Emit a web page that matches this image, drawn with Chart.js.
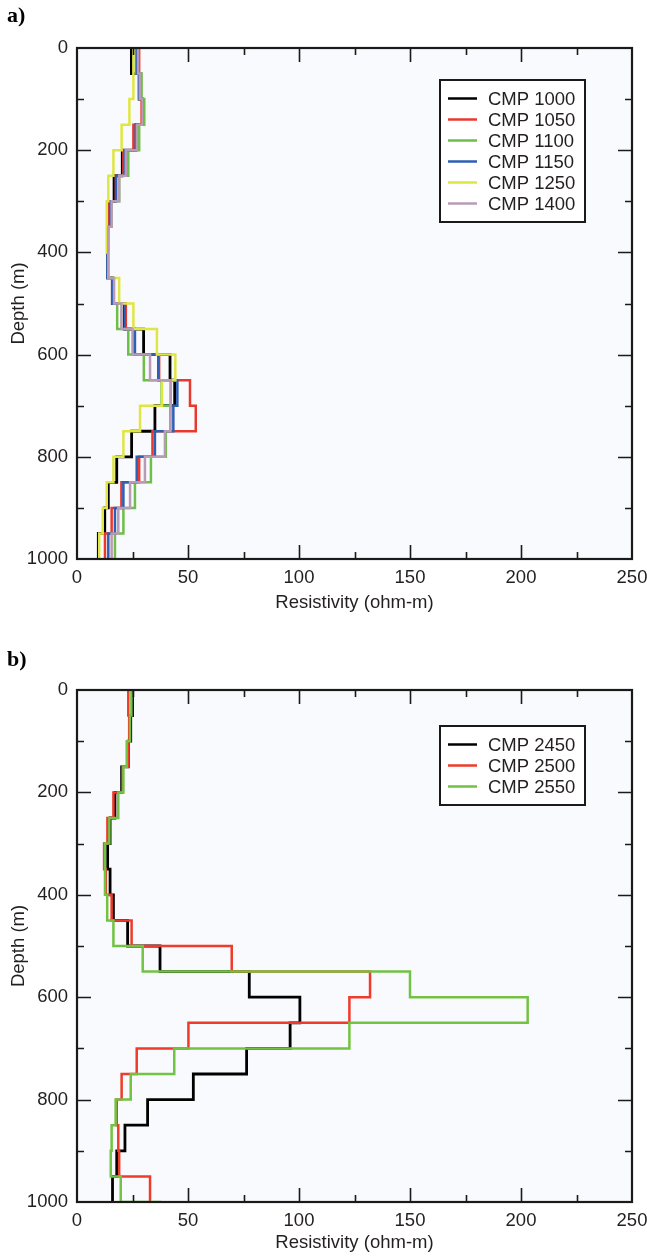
<!DOCTYPE html>
<html>
<head>
<meta charset="utf-8">
<script src="https://cdn.jsdelivr.net/npm/chart.js@4.4.1/dist/chart.umd.min.js"></script>
<style>
  html, body { margin: 0; padding: 0; background: #fff; }
  #page { position: relative; width: 647px; height: 1258px; overflow: hidden; }
  canvas { position: absolute; left: 0; }
  .panel-label { position: absolute; left: 7px; font: bold 22px "Liberation Serif", "DejaVu Serif", serif; line-height: 22px; color: #000; }
</style>
</head>
<body>
<div id="page">
  <canvas id="chartA" width="647" height="630" style="top:0"></canvas>
  <canvas id="chartB" width="647" height="628" style="top:630px"></canvas>
  <div class="panel-label" style="top:4px">a)</div>
  <div class="panel-label" style="top:648px">b)</div>
</div>
<script>
// layer boundaries (m), 50 m layers
const layerDepths = [0, 50, 100, 150, 200, 250, 300, 350, 400, 450, 500, 550, 600, 650, 700, 750, 800, 850, 900, 950, 1000, 1050];
const xTicks = [0, 50, 100, 150, 200, 250];
const yTicks = [0, 200, 400, 600, 800, 1000];

// panel a - resistivity per layer (ohm-m)
const labelsA = ['CMP 1000', 'CMP 1050', 'CMP 1100', 'CMP 1150', 'CMP 1250', 'CMP 1400'];
const cmp1000 = [24.5, 28.0, 29.5, 26.5, 20.4, 16.7, 14.1, 13.8, 13.8, 15.9, 21.3, 30.0, 41.9, 44.0, 35.1, 24.6, 17.9, 14.1, 12.5, 9.6];
const cmp1050 = [28.0, 28.7, 29.1, 25.4, 20.9, 17.5, 14.5, 14.0, 14.0, 16.0, 22.0, 25.4, 37.0, 50.9, 53.5, 34.0, 28.0, 20.0, 15.6, 12.6];
const cmp1100 = [26.5, 29.1, 30.3, 28.0, 23.1, 19.0, 15.5, 14.0, 14.0, 16.5, 18.1, 23.1, 30.1, 38.1, 42.0, 40.0, 33.3, 26.1, 20.9, 17.1];
const cmp1150 = [27.0, 28.0, 29.5, 26.5, 21.5, 17.6, 14.9, 13.7, 13.7, 15.9, 21.5, 26.1, 36.6, 45.2, 43.4, 35.1, 26.9, 20.9, 17.1, 14.1];
const cmp1250 = [25.4, 25.4, 23.6, 20.1, 16.4, 14.1, 13.4, 13.4, 14.1, 19.0, 25.4, 36.0, 44.3, 38.3, 28.4, 20.9, 16.4, 13.4, 11.6, 10.0];
const cmp1400 = [27.5, 28.3, 29.5, 27.0, 22.0, 19.0, 15.6, 14.1, 14.1, 16.7, 20.0, 25.0, 32.9, 42.3, 42.0, 39.6, 30.6, 23.9, 18.6, 15.6];
const colorsA = ['#000000', '#e8392f', '#6dbf47', '#2d5fb5', '#dfe642', '#b99bb5'];

// panel b
const labelsB = ['CMP 2450', 'CMP 2500', 'CMP 2550'];
const cmp2450 = [25.0, 24.2, 23.1, 20.1, 17.1, 14.9, 13.8, 14.9, 16.4, 22.8, 37.4, 77.6, 100.4, 96.0, 76.4, 52.4, 31.8, 21.6, 17.9, 16.0, 16.0];
const cmp2500 = [23.1, 23.5, 23.0, 20.5, 16.4, 13.7, 12.2, 13.0, 15.6, 24.6, 69.7, 132.0, 122.7, 50.2, 26.9, 20.1, 17.9, 18.6, 19.0, 32.9, 32.9];
const cmp2550 = [24.5, 23.9, 22.4, 20.9, 18.6, 14.6, 12.6, 12.6, 13.6, 16.4, 29.6, 150.0, 203.0, 122.7, 43.8, 24.2, 17.4, 15.6, 15.2, 19.7, 37.4];
const colorsB = ['#000000', '#ee3b2b', '#72c243'];

Chart.defaults.font.family = '"Liberation Sans", Arial, sans-serif';
Chart.defaults.font.size = 18.5;
Chart.defaults.color = '#231f20';

// turn layer values into a blocky depth profile
function profile(vals) {
    const pts = [];
    vals.forEach((v, i) => {
        pts.push({ x: v, y: layerDepths[i] });
        pts.push({ x: v, y: layerDepths[i + 1] });
    });
    return pts;
}

// background, frame and inward ticks on all four sides
const frameTicks = {
    id: 'frameTicks',
    beforeDraw(chart) {
        const { ctx, chartArea: a } = chart;
        ctx.save();
        ctx.fillStyle = '#f9fafd';
        ctx.fillRect(a.left, a.top, a.right - a.left, a.bottom - a.top);
        ctx.restore();
    },
    afterDatasetsDraw(chart) {
        const { ctx, chartArea: a, scales } = chart;
        const x = scales.x, y = scales.y;
        ctx.save();
        ctx.strokeStyle = '#1a1a1a';
        ctx.lineWidth = 1.6;
        ctx.beginPath();
        for (let v = x.min + 25; v < x.max; v += 25) {
            const px = Math.round(x.getPixelForValue(v)) + 0.5;
            const len = v % 50 === 0 ? 14 : 7;
            ctx.moveTo(px, a.bottom); ctx.lineTo(px, a.bottom - len);
            ctx.moveTo(px, a.top); ctx.lineTo(px, a.top + len);
        }
        for (let v = y.min + 100; v < y.max; v += 100) {
            const py = Math.round(y.getPixelForValue(v)) + 0.5;
            const len = v % 200 === 0 ? 14 : 7;
            ctx.moveTo(a.left, py); ctx.lineTo(a.left + len, py);
            ctx.moveTo(a.right, py); ctx.lineTo(a.right - len, py);
        }
        ctx.stroke();
        ctx.lineWidth = 2.2;
        ctx.strokeRect(a.left, a.top, a.right - a.left, a.bottom - a.top);
        ctx.restore();
    }
};

// boxed legend in the upper right of the plot
const boxLegend = {
    id: 'boxLegend',
    afterDraw(chart, args, opts) {
        const { ctx, chartArea: a } = chart;
        const ds = chart.data.datasets;
        const w = 145, rowH = 21, padY = 18.5;
        const h = padY * 2 + (ds.length - 1) * rowH;
        const left = a.right - opts.right - w;
        const top = a.top + opts.top;
        ctx.save();
        ctx.fillStyle = '#ffffff';
        ctx.fillRect(left, top, w, h);
        ctx.strokeStyle = '#1a1a1a';
        ctx.lineWidth = 2;
        ctx.strokeRect(left, top, w, h);
        ctx.font = '18.5px "Liberation Sans", Arial, sans-serif';
        ctx.textBaseline = 'middle';
        ds.forEach((d, i) => {
            const cy = top + padY + i * rowH;
            ctx.strokeStyle = d.borderColor;
            ctx.lineWidth = 2.5;
            ctx.beginPath();
            ctx.moveTo(left + 8, cy);
            ctx.lineTo(left + 37, cy);
            ctx.stroke();
            ctx.fillStyle = '#231f20';
            ctx.fillText(d.label, left + 48, cy + 1);
        });
        ctx.restore();
    }
};

function makeChart(id, labels, series, colors, lay) {
    return new Chart(document.getElementById(id), {
        type: 'scatter',
        data: {
            datasets: series.map((s, i) => ({
                label: labels[i],
                data: profile(s),
                showLine: true,
                borderColor: colors[i],
                backgroundColor: colors[i],
                borderWidth: i === 0 ? 2.8 : 2.5,
                pointRadius: 0,
                tension: 0,
                order: series.length - i   // later profiles drawn on top
            }))
        },
        options: {
            responsive: false,
            animation: false,
            devicePixelRatio: 1,
            layout: { padding: { top: lay.top, right: 15, left: 0, bottom: 0 } },
            plugins: {
                legend: { display: false },
                tooltip: { enabled: false },
                boxLegend: { right: 47, top: lay.legendTop }
            },
            scales: {
                x: {
                    type: 'linear',
                    min: 0, max: 250,
                    afterBuildTicks: s => { s.ticks = xTicks.map(v => ({ value: v })); },
                    afterFit: s => { s.height = lay.xAxisH; s.paddingLeft = 0; s.paddingRight = 0; },
                    grid: { display: false, drawTicks: false },
                    border: { display: false },
                    ticks: { padding: 8, maxRotation: 0, autoSkip: false, callback: v => String(v) },
                    title: { display: true, text: 'Resistivity (ohm-m)', padding: { top: 0, bottom: lay.titlePad } }
                },
                y: {
                    type: 'linear',
                    reverse: true,
                    min: 0, max: 1000,
                    afterBuildTicks: s => { s.ticks = yTicks.map(v => ({ value: v })); },
                    afterFit: s => { s.width = 77; s.paddingTop = 0; s.paddingBottom = 0; },
                    grid: { display: false, drawTicks: false },
                    border: { display: false },
                    ticks: { padding: 9, autoSkip: false, callback: v => String(v) },
                    title: { display: true, text: 'Depth (m)', padding: { top: 8, bottom: 0 } }
                }
            }
        },
        plugins: [frameTicks, boxLegend]
    });
}

makeChart('chartA', labelsA, [cmp1000, cmp1050, cmp1100, cmp1150, cmp1250, cmp1400], colorsA,
    { top: 48, xAxisH: 71, titlePad: 16, legendTop: 32 });
makeChart('chartB', labelsB, [cmp2450, cmp2500, cmp2550], colorsB,
    { top: 60, xAxisH: 56, titlePad: 4, legendTop: 36 });
</script>
</body>
</html>
